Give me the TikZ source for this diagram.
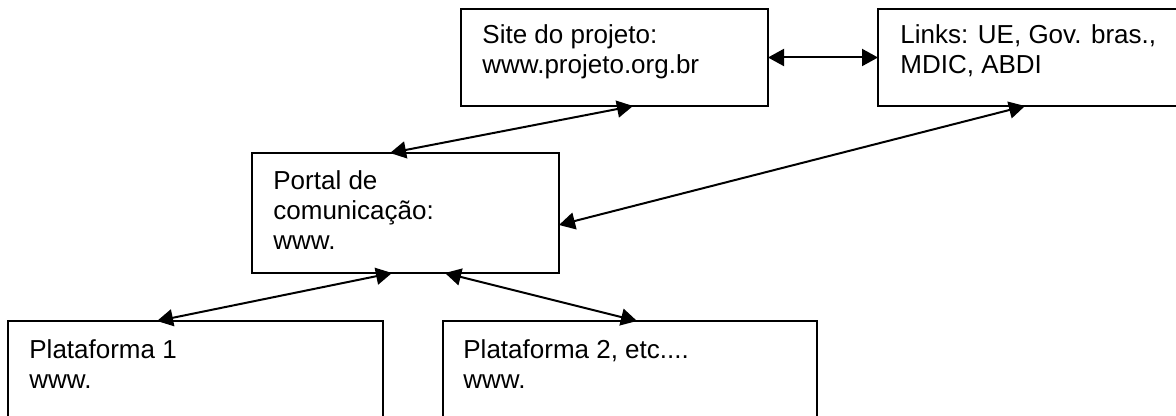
\documentclass[tikz,border=0pt]{standalone}
\usepackage{fontspec}
\setmainfont{Liberation Sans}
\usetikzlibrary{arrows.meta,calc}

\begin{document}
\begin{tikzpicture}[x=0.5pt, y=-0.5pt,
  box node/.style={rectangle, draw, line width=0.9pt, inner sep=0pt, outer sep=0pt, anchor=north west},
  text node/.style={anchor=base west, align=left, inner sep=0pt, font=\fontsize{13pt}{15pt}\selectfont},
  link/.style={{Triangle[length=8pt,width=8.5pt]}-{Triangle[length=8pt,width=8.5pt]}, line width=1pt}]
  \useasboundingbox (0,0) rectangle (1176,416);

  % top row
  \node[box node, minimum width=153.5pt, minimum height=48.5pt] (site) at (461,9) {};
  \node[box node, minimum width=151pt, minimum height=48.5pt] (links) at (878,9) {};
  \node[text node] (sitetext) at (482,74) {Site do projeto:\\www.projeto.org.br};
  \node[text node] (linkstext) at (900,74) {Links: UE, Gov. bras.,\\MDIC, ABDI};

  % portal
  \node[box node, minimum width=153.5pt, minimum height=60pt] (portal) at (252,153) {};
  \node[text node] (portaltext) at (273,250) {Portal de\\comunica\c{c}\~ao:\\www.};

  % platforms
  \node[box node, minimum width=187.5pt, minimum height=60pt] (plat1) at (8,321) {};
  \node[box node, minimum width=187pt, minimum height=60pt] (plat2) at (443,321) {};
  \node[text node] (plat1text) at (29,388) {Plataforma 1\\www.};
  \node[text node] (plat2text) at (463,388) {Plataforma 2, etc....\\www.};

\path (site.east) edge[link] (links.west)
($(site.south west)+(172,0)$) edge[link] ($(portal.north west)+(138,0)$)
($(links.south west)+(147,0)$) edge[link] ($(portal.north east)+(0,72)$)
($(portal.south west)+(140,0)$) edge[link] ($(plat1.north west)+(149,0)$)
($(portal.south west)+(193,0)$) edge[link] ($(plat2.north west)+(194,0)$);
\end{tikzpicture}
\end{document}
